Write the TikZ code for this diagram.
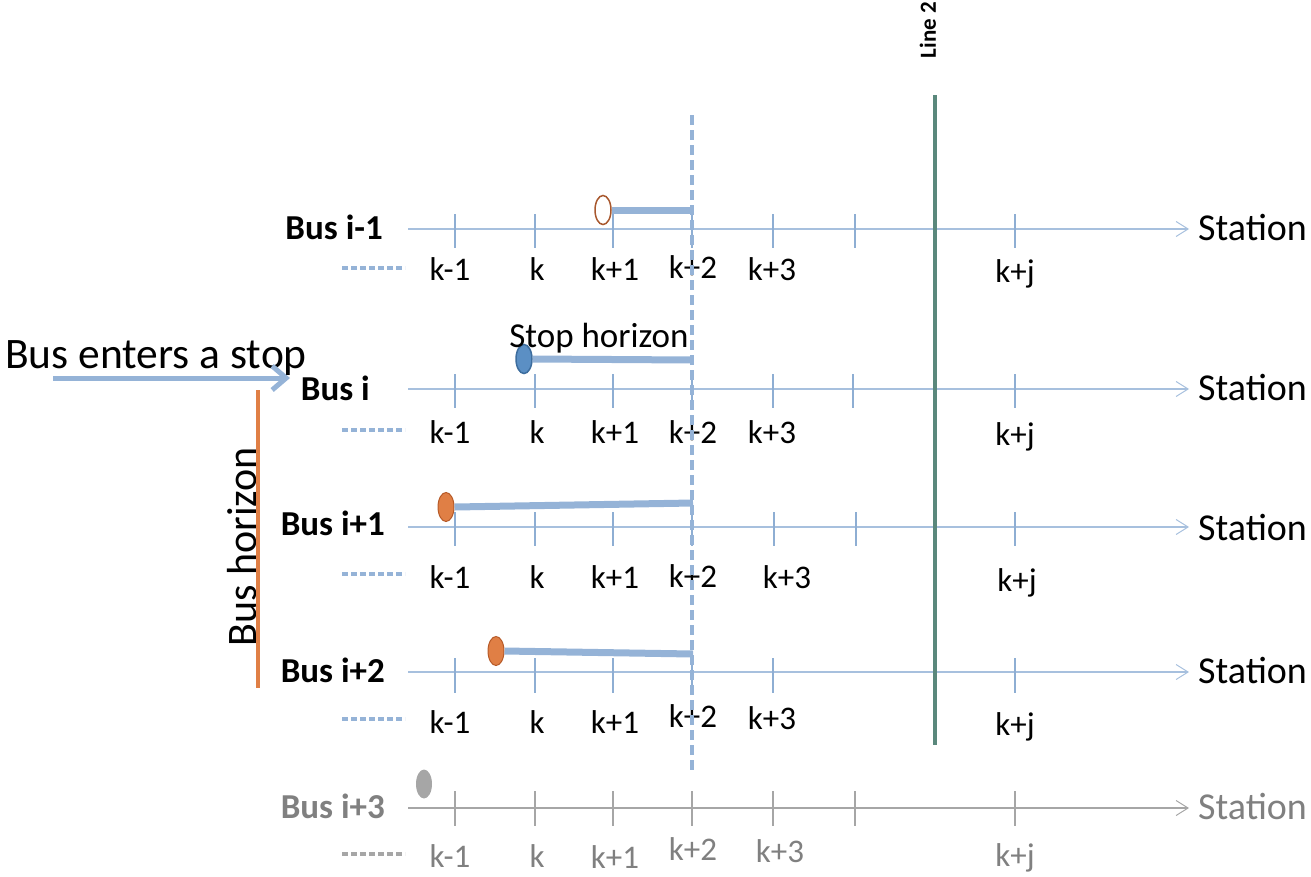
\documentclass[tikz,border=0pt]{standalone}
\usepackage{fontspec}
\setmainfont{Carlito}
\usetikzlibrary{arrows.meta,shapes.geometric}
\definecolor{axisblue}{HTML}{A7C0DE}
\definecolor{tickblue}{HTML}{8EAED3}
\definecolor{barblue}{HTML}{95B3D7}
\definecolor{busorange}{HTML}{E07F45}
\definecolor{orangeedge}{HTML}{B65A28}
\definecolor{brownedge}{HTML}{A8582E}
\definecolor{bluefill}{HTML}{5B8FC4}
\definecolor{blueedge}{HTML}{3D6D9E}
\definecolor{linetwo}{HTML}{5A887C}
\definecolor{grayline}{HTML}{A6A6A6}
\definecolor{graytext}{HTML}{808080}
\tikzset{
  axisline/.style={draw=axisblue, line width=1.5pt, -{Straight Barb[length=12pt,width=15pt,line width=1pt]}},
  tickline/.style={draw=tickblue, line width=1.6pt},
  klbl/.style={anchor=base, inner sep=0pt, font=\fontsize{33}{36}\selectfont},
  buslbl/.style={anchor=east, inner sep=0pt, font=\bfseries\fontsize{35}{38}\selectfont},
  stationlbl/.style={anchor=base west, inner sep=0pt, font=\fontsize{38}{42}\selectfont},
  dotseg/.style={draw=barblue, line width=4pt, dash pattern=on 6pt off 3pt},
  busdot/.style={ellipse, minimum width=16pt, minimum height=29pt, inner sep=0pt, line width=1.5pt},
  horizonbar/.style={draw=barblue, line width=7pt},
  vdash/.style={draw=barblue, line width=3.5pt, dash pattern=on 10pt off 5pt},
}
\begin{document}
\begin{tikzpicture}[x=1pt,y=-1pt]
\useasboundingbox (0,0) rectangle (1311,876);

% ---------- Row 1 : Bus i-1 ----------
\node[buslbl] (b1) at (383,227) {Bus i-1};
\coordinate (a1s) at (408,229);
\coordinate (a1e) at (1189,229);
\node[stationlbl] (st1) at (1198,240) {Station};
\draw[axisline] (a1s) -- (a1e);
\foreach \x in {455,535,613,692,773,855,1015} \draw[tickline] (\x,214) -- (\x,248);
\draw[dotseg] (342,268) -- (405,268);
\node[klbl] (r1a) at (450,280) {k-1};
\node[klbl] (r1b) at (537,280) {k};
\node[klbl] (r1c) at (615,280) {k+1};
\node[klbl] (r1d) at (693,278) {k+2};
\node[klbl] (r1e) at (772,280) {k+3};
\node[klbl] (r1f) at (1015,282) {k+j};

% ---------- Row 2 : Bus i ----------
\node[buslbl] (b2) at (370,388) {Bus i};
\coordinate (a2s) at (408,389);
\coordinate (a2e) at (1189,389);
\node[stationlbl] (st2) at (1198,400) {Station};
\draw[axisline] (a2s) -- (a2e);
\foreach \x in {455,535,613,692,773,853,1015} \draw[tickline] (\x,374) -- (\x,408);
\draw[dotseg] (342,430) -- (405,430);
\node[klbl] (r2a) at (450,443) {k-1};
\node[klbl] (r2b) at (537,443) {k};
\node[klbl] (r2c) at (615,443) {k+1};
\node[klbl] (r2d) at (693,443) {k+2};
\node[klbl] (r2e) at (772,443) {k+3};
\node[klbl] (r2f) at (1015,445) {k+j};

% ---------- Row 3 : Bus i+1 ----------
\node[buslbl] (b3) at (385,523) {Bus i+1};
\coordinate (a3s) at (408,527);
\coordinate (a3e) at (1189,527);
\node[stationlbl] (st3) at (1198,540) {Station};
\draw[axisline] (a3s) -- (a3e);
\foreach \x in {455,535,613,692,774,856,1015} \draw[tickline] (\x,512) -- (\x,546);
\draw[dotseg] (342,574) -- (405,574);
\node[klbl] (r3a) at (450,588) {k-1};
\node[klbl] (r3b) at (537,588) {k};
\node[klbl] (r3c) at (615,588) {k+1};
\node[klbl] (r3d) at (693,587) {k+2};
\node[klbl] (r3e) at (787,588) {k+3};
\node[klbl] (r3f) at (1017,591) {k+j};

% ---------- Row 4 : Bus i+2 ----------
\node[buslbl] (b4) at (385,670) {Bus i+2};
\coordinate (a4s) at (408,672);
\coordinate (a4e) at (1189,672);
\node[stationlbl] (st4) at (1198,683) {Station};
\draw[axisline] (a4s) -- (a4e);
\foreach \x in {455,535,613,692,773,1015} \draw[tickline] (\x,658) -- (\x,693);
\draw[dotseg] (342,719) -- (405,719);
\node[klbl] (r4a) at (450,733) {k-1};
\node[klbl] (r4b) at (537,733) {k};
\node[klbl] (r4c) at (615,733) {k+1};
\node[klbl] (r4d) at (693,727) {k+2};
\node[klbl] (r4e) at (772,729) {k+3};
\node[klbl] (r4f) at (1015,735) {k+j};

% ---------- Row 5 : Bus i+3 (gray) ----------
\node[buslbl, text=graytext] (b5) at (385,806) {Bus i+3};
\coordinate (a5s) at (408,808);
\coordinate (a5e) at (1189,808);
\node[stationlbl, text=graytext] (st5) at (1198,819) {Station};
\draw[axisline, draw=grayline] (a5s) -- (a5e);
\foreach \x in {455,535,613,692,773,855,1015} \draw[tickline, draw=grayline] (\x,791) -- (\x,826);
\draw[dotseg, draw=grayline] (342,854) -- (405,854);
\node[klbl, text=graytext] (r5a) at (450,867) {k-1};
\node[klbl, text=graytext] (r5b) at (537,867) {k};
\node[klbl, text=graytext] (r5c) at (615,868) {k+1};
\node[klbl, text=graytext] (r5d) at (693,860) {k+2};
\node[klbl, text=graytext] (r5e) at (780,862) {k+3};
\node[klbl, text=graytext] (r5f) at (1015,866) {k+j};

% ---------- bus positions and stop horizons ----------
\node[busdot, draw=brownedge, fill=white] (d1) at (603,210) {};
\coordinate (h1) at (693,210);
\draw[horizonbar] (d1.east) -- (h1);

\node[busdot, draw=blueedge, fill=bluefill] (d2) at (524,359) {};
\coordinate (h2) at (693,360);
\draw[horizonbar] (d2.east) -- (h2);
\node[inner sep=0pt, anchor=base, font=\fontsize{35}{40}\selectfont] (sh) at (599,347) {Stop horizon};

\node[busdot, draw=orangeedge, fill=busorange, line width=1pt] (d3) at (446,507) {};
\coordinate (h3) at (693,503);
\draw[horizonbar] (d3.east) -- (h3);

\node[busdot, draw=orangeedge, fill=busorange, line width=1pt] (d4) at (496,651) {};
\coordinate (h4) at (693,654);
\draw[horizonbar] (d4.east) -- (h4);

\node[busdot, draw=none, fill=grayline] (d5) at (424,784) {};

% ---------- vertical dashed stop line ----------
\coordinate (vt) at (692,115);
\coordinate (vb) at (692,770);
\draw[vdash] (vt) -- (vb);

% ---------- Line 2 ----------
\node[rotate=90, inner sep=0pt, font=\bfseries\fontsize{23}{25}\selectfont] (l2) at (928,30) {Line 2};
\coordinate (l2t) at (935,95);
\coordinate (l2b) at (935,745);
\draw[draw=linetwo, line width=4.5pt] (l2t) -- (l2b);

% ---------- Bus enters a stop ----------
\node[anchor=base west, inner sep=0pt, font=\fontsize{43.5}{47}\selectfont] (enter) at (5,368) {Bus enters a stop};
\coordinate (e1) at (53,378);
\coordinate (e2) at (290,378);
\draw[draw=barblue, line width=5pt, -{Straight Barb[length=14pt,width=24pt,line width=5pt]}] (e1) -- (e2);

% ---------- Bus horizon ----------
\node[rotate=90, inner sep=0pt, font=\fontsize{42}{46}\selectfont] (bh) at (242,547) {Bus horizon};
\coordinate (bht) at (258,390);
\coordinate (bhb) at (258,688);
\draw[draw=busorange, line width=4pt] (bht) -- (bhb);
\end{tikzpicture}
\end{document}
